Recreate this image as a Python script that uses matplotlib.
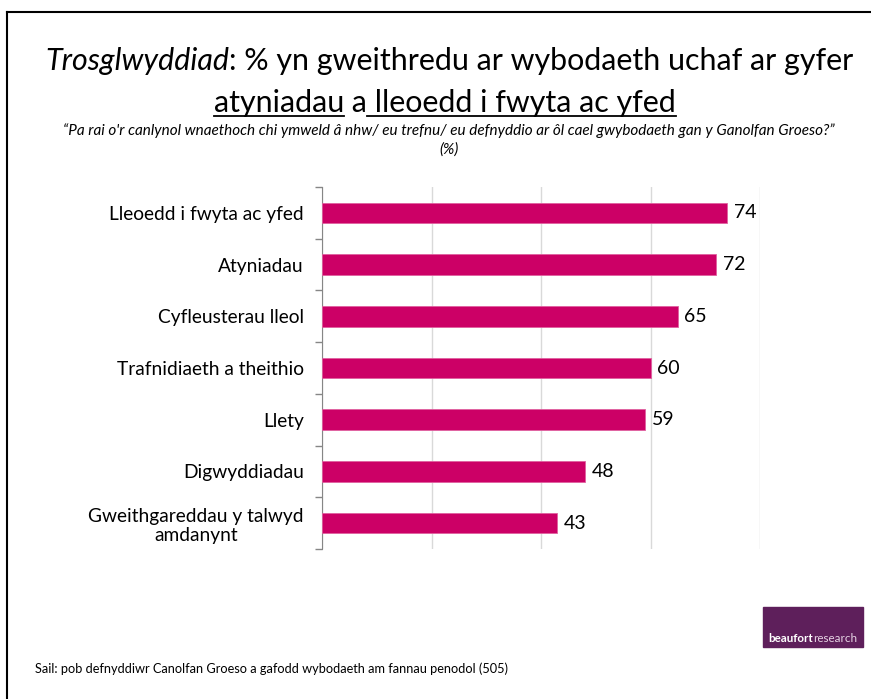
import matplotlib
matplotlib.use("Agg")
import matplotlib.pyplot as plt
from matplotlib.patches import Rectangle
from matplotlib.lines import Line2D

plt.rcParams['font.family'] = ['Lato', 'DejaVu Sans']

categories = ["Lleoedd i fwyta ac yfed", "Atyniadau", "Cyfleusterau lleol",
              "Trafnidiaeth a theithio", "Llety", "Digwyddiadau",
              "Gweithgareddau y talwyd\namdanynt"]
values = [74, 72, 65, 60, 59, 48, 43]
xticks = [0, 20, 40, 60, 80]

W, H = 871, 699
fig = plt.figure(figsize=(W / 100, H / 100), dpi=100)
r = fig.canvas.get_renderer()

# frame round the slide
fig.add_artist(Line2D([7 / W, 7 / W], [0, 1 - 12 / H], color='black', lw=1.5, transform=fig.transFigure))
fig.add_artist(Line2D([7 / W, 1], [1 - 12 / H, 1 - 12 / H], color='black', lw=1.5, transform=fig.transFigure))


def place(parts, cx, target=None):
    widths = [p.get_window_extent(r).width for p in parts]
    if target:
        fs = parts[0].get_fontsize() * target / sum(widths)
        for p in parts:
            p.set_fontsize(fs)
        widths = [p.get_window_extent(r).width for p in parts]
    x = cx * W - sum(widths) / 2
    for p, w in zip(parts, widths):
        p.set_x(x / W)
        x += w


# title
t1a = fig.text(0, 1 - 70 / H, "Trosglwyddiad", fontsize=22, style='italic', va='baseline')
t1b = fig.text(0, 1 - 70 / H, ": % yn gweithredu ar wybodaeth uchaf ar gyfer", fontsize=22, va='baseline')
place([t1a, t1b], 449 / W, target=805)
fs = t1a.get_fontsize()
t2a = fig.text(0, 1 - 112 / H, "atyniadau", fontsize=fs, va='baseline')
t2b = fig.text(0, 1 - 112 / H, " a", fontsize=fs, va='baseline')
t2c = fig.text(0, 1 - 112 / H, " lleoedd i fwyta ac yfed", fontsize=fs, va='baseline')
place([t2a, t2b, t2c], 445 / W)
for p in (t2a, t2c):
    bb = p.get_window_extent(r)
    y = 1 - 115.5 / H
    fig.add_artist(Line2D([bb.x0 / W, bb.x1 / W], [y, y], color='black', lw=1.3, transform=fig.transFigure))

sub = fig.text(449 / W, 1 - 131 / H,
               "\u201cPa rai o'r canlynol wnaethoch chi ymweld \u00e2 nhw/ eu trefnu/ eu defnyddio ar \u00f4l cael gwybodaeth gan y Ganolfan Groeso?\u201d",
               fontsize=11, style='italic', ha='center', va='center')
fig.text(449 / W, 1 - 150 / H, "(%)", fontsize=11, style='italic', ha='center', va='center')

# chart
ax = fig.add_axes([322 / W, 1 - 549 / H, (760 - 322) / W, (549 - 187) / H])
pos = list(range(len(categories)))
ax.barh(pos, values, height=0.4, color='#CC0066', edgecolor='#E0609F', linewidth=0.6, zorder=3)
for p, v in zip(pos, values):
    ax.text(v + 1.2, p, str(v), va='center', ha='left', fontsize=14, color='black')

ax.set_xlim(0, 80)
ax.set_ylim(len(categories) - 0.5, -0.5)
ax.set_xticks(xticks)
ax.xaxis.grid(True, color='#D9D9D9', lw=1, zorder=0)
ax.tick_params(axis='x', length=0, labelbottom=False)
ax.set_yticks(pos)
ax.set_yticklabels(categories, fontsize=13.8, ha='right', multialignment='center')
ax.tick_params(axis='y', which='major', length=0, pad=13)
ax.set_yticks([p - 0.5 for p in range(len(categories) + 1)], minor=True)
ax.tick_params(axis='y', which='minor', length=5, color='#868686', width=1)
for s in ('top', 'right', 'bottom'):
    ax.spines[s].set_visible(False)
ax.spines['left'].set_color('#868686')

# footer
fig.text(35 / W, 1 - 669 / H, "Sail: pob defnyddiwr Canolfan Groeso a gafodd wybodaeth am fannau penodol (505)",
         fontsize=9.2, ha='left', va='center')
fig.add_artist(Rectangle((763 / W, 1 - 647 / H), 100 / W, 40 / H, color='#5E1F5B', transform=fig.transFigure))
lb1 = fig.text(768 / W, 1 - 638 / H, "beaufort", fontsize=8.4, weight='bold', color='white', va='center')
bb = lb1.get_window_extent(r)
fig.text(bb.x1 / W, 1 - 638 / H, "research", fontsize=8.4, color='#E6D3E4', va='center')

fig.savefig("out.png", dpi=100)
